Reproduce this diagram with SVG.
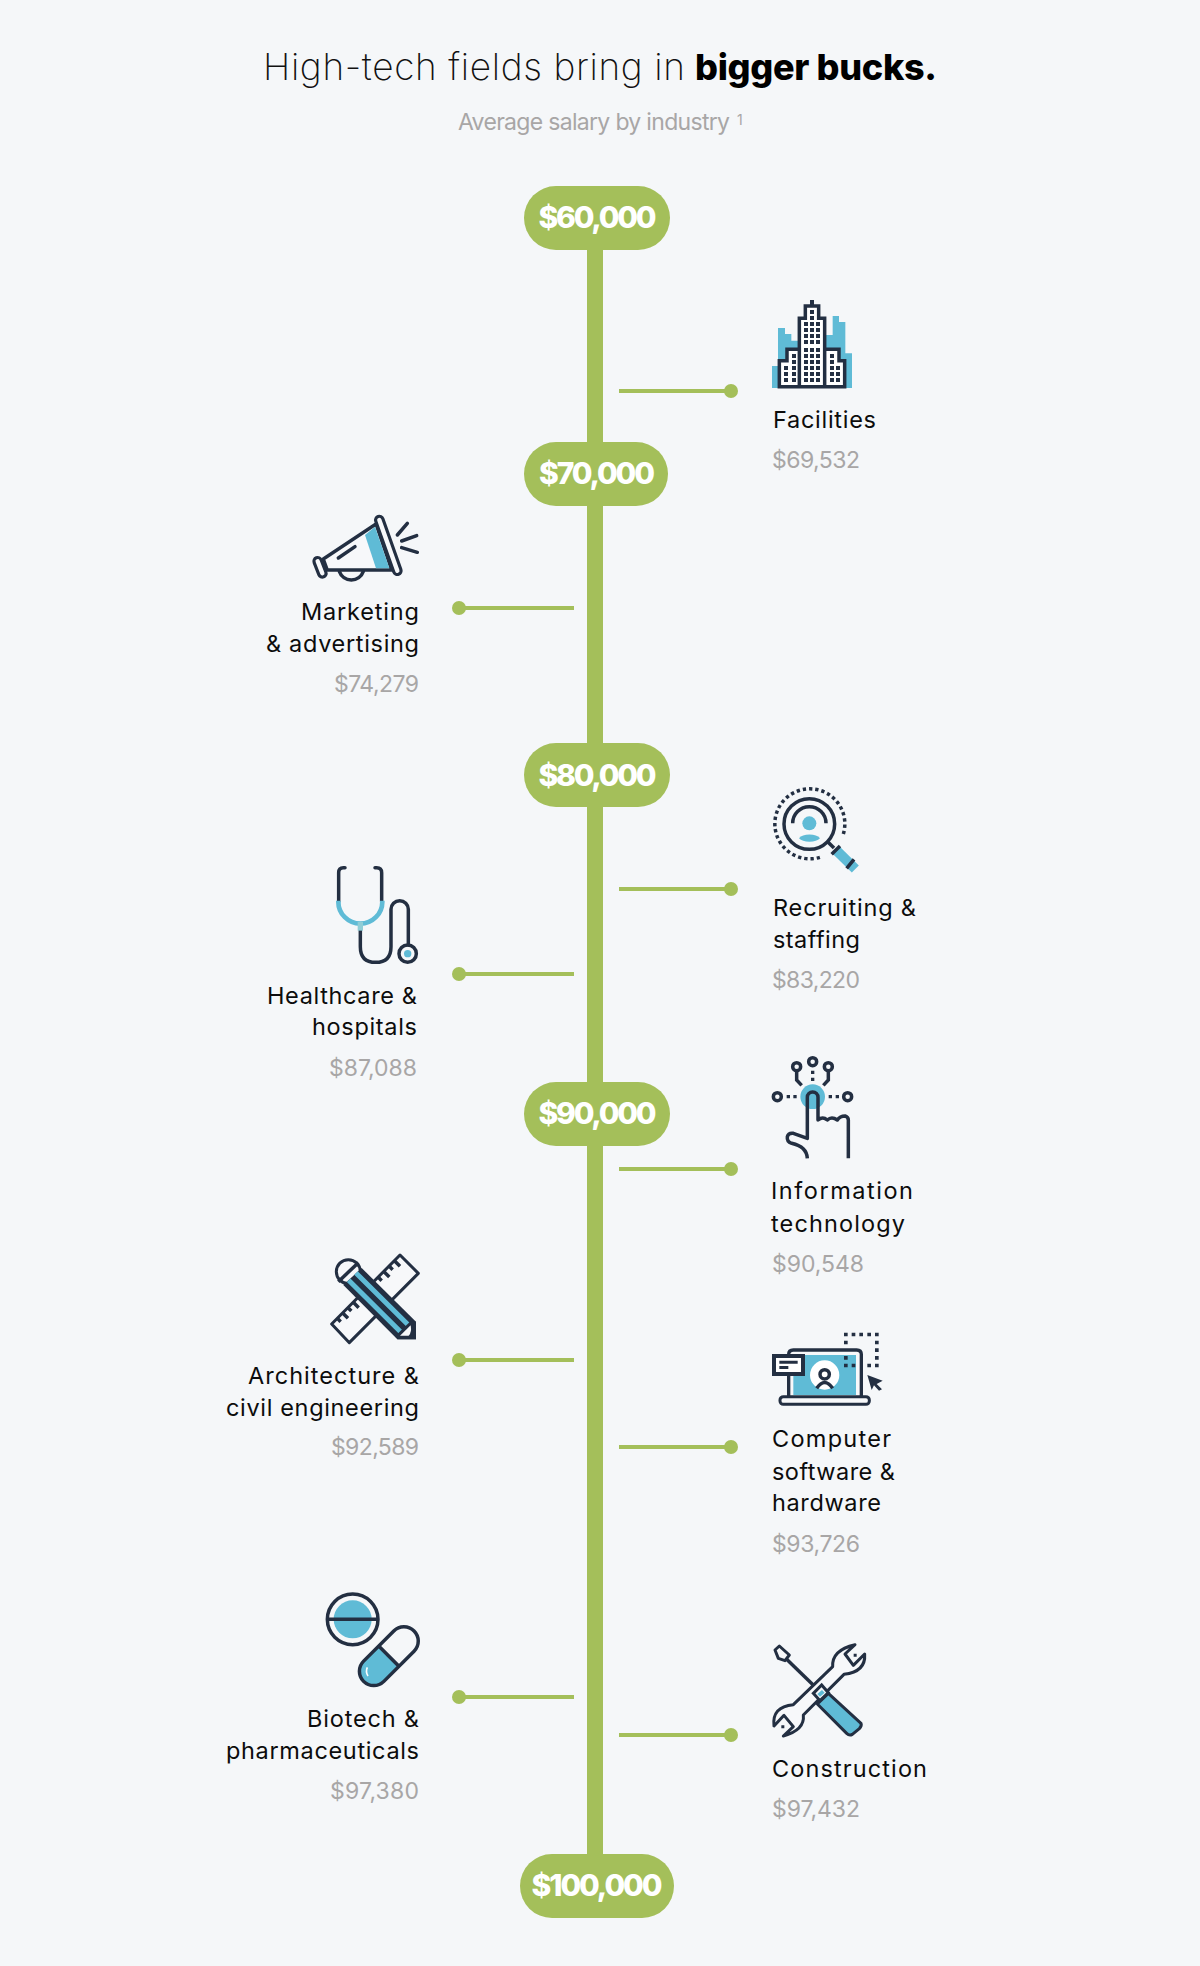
<svg xmlns="http://www.w3.org/2000/svg" width="1200" height="1966" viewBox="0 0 1200 1966">
<style>
text{font-family:"Inter","Lato","Liberation Sans",sans-serif}
.l{font-size:23.5px;fill:#0c0c0c;font-weight:400}
.s{font-size:23px;fill:#a8a6a6;font-weight:400}
.e{text-anchor:end}
.p{font-size:30px;fill:#fff;font-weight:800;text-anchor:middle}
.g{fill:#a4bf5a}
.gl{stroke:#a4bf5a;stroke-width:4;fill:none}
.k{fill:none;stroke:#232f42;stroke-width:10.5}
.kf{fill:#232f42}
.b{fill:#5fbbd6}
.w{fill:#f7f8fa}
</style>
<rect width="1200" height="1966" fill="#f5f7f9"/>
<g id="title">
<text x="263" y="80" font-size="37" font-weight="200" fill="#111" textLength="422">High-tech fields bring in</text>
<text x="695" y="80" font-size="36" font-weight="800" fill="#000" textLength="242">bigger bucks.</text>
<text x="458" y="130" font-size="23" fill="#a8a6a6" textLength="272">Average salary by industry</text>
<text x="737" y="125" font-size="14" fill="#a8a6a6">1</text>
</g>
<g id="connectors">
<rect class="g" x="587" y="240" width="16" height="1625"/>
<path class="gl" d="M619 391H731M459 608H574M619 889H731M459 974H574M619 1169H731M459 1360H574M619 1447H731M459 1697H574M619 1735H731"/>
<g class="g">
<circle cx="731" cy="391" r="7"/><circle cx="459" cy="608" r="7"/><circle cx="731" cy="889" r="7"/><circle cx="459" cy="974" r="7"/><circle cx="731" cy="1169" r="7"/><circle cx="459" cy="1360" r="7"/><circle cx="731" cy="1447" r="7"/><circle cx="459" cy="1697" r="7"/><circle cx="731" cy="1735" r="7"/>
</g>
</g>
<g id="tick-60000"><rect class="g" x="524" y="186" width="146" height="64" rx="32"/><text class="p" x="597.5" y="228" textLength="118">$60,000</text></g>
<g id="tick-70000"><rect class="g" x="524" y="442" width="144" height="64" rx="32"/><text class="p" x="597" y="484" textLength="116">$70,000</text></g>
<g id="tick-80000"><rect class="g" x="524" y="743" width="146" height="64" rx="32"/><text class="p" x="597.5" y="786" textLength="118">$80,000</text></g>
<g id="tick-90000"><rect class="g" x="524" y="1082" width="146" height="64" rx="32"/><text class="p" x="597.5" y="1124" textLength="118">$90,000</text></g>
<g id="tick-100000"><rect class="g" x="520" y="1854" width="154" height="64" rx="32"/><text class="p" x="597" y="1896" textLength="131">$100,000</text></g>

<g id="facilities">
<g transform="translate(740,280) scale(.33333)">
<path class="b" d="M96 324V258H114V144H135V162H154V182H176V165H278V108H297V126H316V220H336V324Z"/>
<path d="M178 320V115H196V78H236V115H254V320ZM178 208H141V242H118V320H178M254 208H297V242H314V320H254" fill="#fff" stroke="#232f42" stroke-width="10.5"/>
<path class="kf" d="M210 60h12v16h-12zM210 90h12v12h-12zM210 108h12v12h-12zM192 126h12v12h-12zM210 126h12v12h-12zM228 126h12v12h-12zM192 144h12v12h-12zM210 144h12v12h-12zM228 144h12v12h-12zM192 162h12v12h-12zM210 162h12v12h-12zM228 162h12v12h-12zM192 180h12v12h-12zM210 180h12v12h-12zM228 180h12v12h-12zM192 204h12v12h-12zM210 204h12v12h-12zM228 204h12v12h-12zM192 222h12v12h-12zM210 222h12v12h-12zM228 222h12v12h-12zM192 240h12v12h-12zM210 240h12v12h-12zM228 240h12v12h-12zM192 258h12v12h-12zM210 258h12v12h-12zM228 258h12v12h-12zM192 276h12v12h-12zM210 276h12v12h-12zM228 276h12v12h-12zM192 294h12v12h-12zM210 294h12v12h-12zM228 294h12v12h-12zM156 222h12v12h-12zM156 240h12v12h-12zM132 258h12v12h-12zM156 258h12v12h-12zM132 276h12v12h-12zM156 276h12v12h-12zM132 294h12v12h-12zM156 294h12v12h-12zM270 222h12v12h-12zM270 240h12v12h-12zM270 258h12v12h-12zM288 258h12v12h-12zM270 276h12v12h-12zM288 276h12v12h-12zM270 294h12v12h-12zM288 294h12v12h-12z"/>
</g>
<text class="l" x="773" y="428" textLength="103">Facilities</text>
<text class="s" x="772" y="468" textLength="88">$69,532</text>
</g>

<g id="marketing">
<g transform="translate(290,500) scale(.33333)">
<path d="M100 177L258 72L305 210H112Z" fill="#f7f8fa" stroke="#232f42" stroke-width="10" stroke-linejoin="round"/>
<path class="b" d="M225 105L255 80L298 205H258Z"/>
<path class="k" stroke-linecap="round" d="M145 174L195 140M148 214A38 38 0 0 0 220 214M322 105L352 70M335 123L380 107M335 143L382 157"/>
<path d="M268 60L322 212M83 184L97 220" stroke="#232f42" stroke-width="32" stroke-linecap="round" fill="none"/>
<path d="M268 60L322 212M83 184L97 220" stroke="#f7f8fa" stroke-width="13" stroke-linecap="round" fill="none"/>
</g>
<text class="l e" x="419" y="620" textLength="118">Marketing</text>
<text class="l e" x="419" y="652" textLength="153">&amp; advertising</text>
<text class="s e" x="419" y="692" textLength="85">$74,279</text>
</g>

<g id="recruiting">
<g transform="translate(750,770) scale(.33333)">
<path class="k" stroke-dasharray="10 8.8" d="M280 192A105 105 0 1 0 210 262"/>
<circle class="k" cx="178" cy="162" r="76"/>
<path class="k" stroke-width="9" d="M128 160A50 50 0 0 1 228 160"/>
<circle class="b" cx="178" cy="160" r="21"/>
<path class="b" d="M147 205A35 20 0 0 1 210 205A35 18 0 0 1 147 205Z"/>
<path class="k" stroke-width="9" d="M233 215L252 234"/>
<path d="M256 238L316 297" stroke="#5fbbd6" stroke-width="30" fill="none"/>
<path class="k" d="M270 228L245 253M312 268L290 295"/>
</g>
<text class="l" x="773" y="916" textLength="143">Recruiting &amp;</text>
<text class="l" x="773" y="948" textLength="87">staffing</text>
<text class="s" x="772" y="988" textLength="88">$83,220</text>
</g>

<g id="healthcare">
<g transform="translate(310,850) scale(.33333)">
<path class="k" stroke-linecap="round" d="M105 53H100Q86 53 86 68V155M195 53H200Q215 53 215 68V155M151 240V290Q151 337 197 337Q243 337 243 290V178A26 26 0 0 1 295 178V285"/>
<path d="M85 152V155A66 66 0 0 0 217 155V152" fill="none" stroke="#5fbbd6" stroke-width="14"/>
<rect x="143" y="216" width="16" height="26" fill="#8fcdd6"/>
<circle class="k" cx="293" cy="311" r="26"/>
<circle class="b" cx="293" cy="311" r="11"/>
</g>
<text class="l e" x="417" y="1004" textLength="150">Healthcare &amp;</text>
<text class="l e" x="417" y="1035" textLength="105">hospitals</text>
<text class="s e" x="417" y="1076" textLength="88">$87,088</text>
</g>

<g id="information-technology">
<g transform="translate(750,1040) scale(.33333)">
<circle class="b" cx="188" cy="170" r="37"/>
<path class="k" stroke-width="11" stroke-linejoin="round" d="M172 355Q170 320 125 310Q110 305 112 290Q115 278 130 280L172 295V172A16 16 0 0 1 204 172V240Q218 228 232 240Q245 228 262 240Q270 228 285 228Q295 232 295 240V355"/>
<circle class="k" cx="82" cy="170" r="12"/><circle class="k" cx="293" cy="170" r="12"/><circle class="k" cx="188" cy="65" r="12"/><circle class="k" cx="140" cy="80" r="12"/><circle class="k" cx="235" cy="80" r="12"/>
<path class="k" d="M140 93V120L155 136M235 93V120L220 136"/>
<path class="kf" d="M110 165h10v10h-10zM130 165h10v10h-10zM236 165h10v10h-10zM257 165h10v10h-10zM183 92h10v10h-10zM183 113h10v10h-10z"/>
</g>
<text class="l" x="771" y="1199" textLength="142">Information</text>
<text class="l" x="771" y="1232" textLength="134">technology</text>
<text class="s" x="772" y="1272" textLength="92">$90,548</text>
</g>

<g id="architecture">
<g transform="translate(310,1240) scale(.33333)">
<path d="M270 45L325 100L118 308L65 252Z" fill="#f7f8fa" stroke="#232f42" stroke-width="9" stroke-linejoin="round"/>
<path class="k" stroke-width="8" d="M82 235L92 245M98 219L114 235M114 203L124 213M130 187L146 203M146 171L156 181M205 112L215 122M222 95L238 111M238 79L248 89M254 63L270 79"/>
<circle cx="115" cy="95" r="36" fill="#f7f8fa" stroke="#232f42" stroke-width="9"/>
<path class="k" stroke-width="9" d="M85 125L145 68"/>
<path class="kf" d="M155 84L318 245V298H262L100 135Z"/>
<path d="M138 99L301 261M116 121L279 283" stroke="#5fbbd6" stroke-width="15" fill="none"/>
<path class="kf" d="M300 245L318 245V298H262L262 282Z"/>
<path class="w" d="M270 287L302 256Q306 278 296 287Z"/>
</g>
<text class="l e" x="419" y="1384" textLength="171">Architecture &amp;</text>
<text class="l e" x="419" y="1416" textLength="193">civil engineering</text>
<text class="s e" x="419" y="1455" textLength="88">$92,589</text>
</g>

<g id="computer">
<g transform="translate(750,1320) scale(.33333)">
<path d="M116 232V103Q116 90 130 90H320Q334 90 334 103V232" fill="#f7f8fa" stroke="#232f42" stroke-width="10"/>
<rect class="b" x="130" y="105" width="188" height="120"/>
<circle cx="224" cy="165" r="44" fill="#fff"/>
<circle class="k" stroke-width="9" cx="224" cy="163" r="14"/>
<path class="k" stroke-width="9" d="M200 205Q224 170 248 205"/>
<rect x="90" y="230" width="268" height="23" rx="10" fill="#f7f8fa" stroke="#232f42" stroke-width="9"/>
<rect class="kf" x="66" y="102" width="99" height="66"/>
<rect x="78" y="114" width="75" height="42" fill="#fff"/>
<path class="kf" d="M88 122h55v9h-55zM88 138h27v9h-27z"/>
<path class="kf" d="M282 38h11v11h-11zM305 38h11v11h-11zM328 38h11v11h-11zM352 38h11v11h-11zM375 38h11v11h-11zM375 62h11v11h-11zM375 85h11v11h-11zM375 108h11v11h-11zM375 131h11v11h-11zM352 131h11v11h-11zM282 62h11v11h-11zM282 108h11v11h-11zM282 131h11v11h-11zM305 131h11v11h-11z"/>
<path class="kf" d="M352 165L398 182L380 192L396 208L387 212L372 196L365 210Z"/>
</g>
<text class="l" x="772" y="1447" textLength="119">Computer</text>
<text class="l" x="772" y="1480" textLength="123">software &amp;</text>
<text class="l" x="772" y="1511" textLength="109">hardware</text>
<text class="s" x="772" y="1552" textLength="88">$93,726</text>
</g>

<g id="biotech">
<g transform="translate(310,1580) scale(.33333)">
<circle class="b" cx="128" cy="118" r="57"/>
<circle class="k" cx="128" cy="118" r="76"/>
<path class="k" d="M52 118H204"/>
<g transform="translate(236.5,228.5) rotate(-45)">
<path class="b" d="M0 -45H-66A45 45 0 0 0 -66 45H0Z"/>
<rect class="k" x="-107" y="-43" width="214" height="86" rx="43"/>
<path class="k" d="M0 -45V45"/>
</g>
<path d="M172 262Q166 275 174 288" stroke="#fff" stroke-width="5" fill="none"/>
</g>
<text class="l e" x="419" y="1727" textLength="112">Biotech &amp;</text>
<text class="l e" x="419" y="1759" textLength="193">pharmaceuticals</text>
<text class="s e" x="419" y="1799" textLength="89">$97,380</text>
</g>

<g id="construction">
<g transform="translate(760,1630) scale(.33333)">
<path d="M45 60L58 48L88 75L75 92L55 85Z" fill="#f7f8fa" stroke="#232f42" stroke-width="9" stroke-linejoin="round"/>
<path class="k" stroke-width="9" d="M80 88L165 170"/>
<path d="M100 224L218 110Q215 60 285 44L255 72L280 106L314 72Q318 125 252 133L130 255Q135 300 70 318L100 290L72 256L42 288Q35 230 100 224Z" fill="#f7f8fa" stroke="#232f42" stroke-width="9" stroke-linejoin="round"/>
<path class="b" d="M205 190L303 280Q306 288 298 296L277 313Q268 318 260 310L172 222Z" stroke="#232f42" stroke-width="9" stroke-linejoin="round"/>
<path d="M160 190L185 165L205 188L180 212Z" fill="#f7f8fa" stroke="#232f42" stroke-width="9"/>
<path class="b" d="M172 192L186 180L194 188L180 200Z"/>
<path class="kf" d="M281 71h9v9h-9zM64 286h9v9h-9z"/>
</g>
<text class="l" x="772" y="1777" textLength="155">Construction</text>
<text class="s" x="772" y="1817" textLength="88">$97,432</text>
</g>
</svg>
